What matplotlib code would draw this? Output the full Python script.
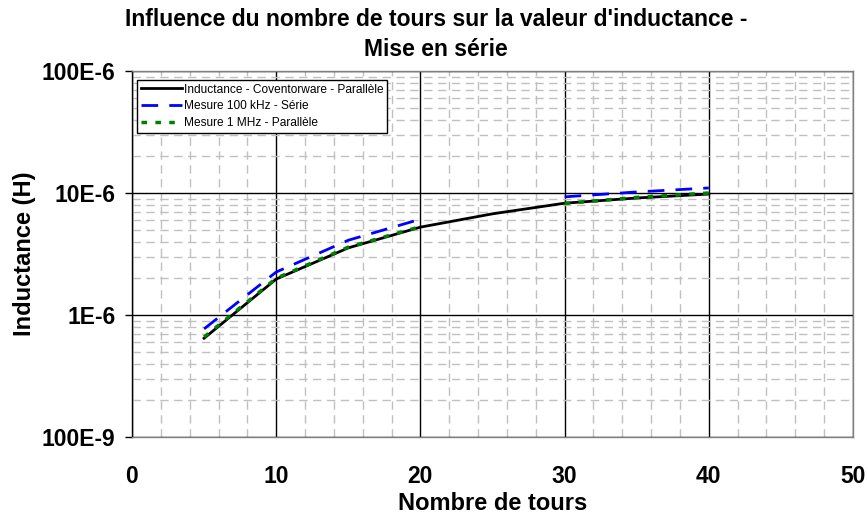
import numpy as np
import matplotlib
matplotlib.use("Agg")
import matplotlib.pyplot as plt
from matplotlib.ticker import FixedLocator, FixedFormatter, LogLocator, NullFormatter, MultipleLocator

plt.rcParams['font.family'] = ['Liberation Sans', 'DejaVu Sans']

turns = [5, 10, 15, 20, 25, 30, 35, 40]
coventor = [0.645e-6, 1.97e-6, 3.55e-6, 5.25e-6, 6.75e-6, 8.25e-6, 9.1e-6, 9.8e-6]
mes_100k = [0.77e-6, 2.25e-6, 4.1e-6, 6.1e-6, np.nan, 9.3e-6, 10.2e-6, 11.0e-6]
mes_1M = [0.66e-6, 2.0e-6, 3.6e-6, 5.3e-6, np.nan, 8.2e-6, 9.2e-6, 10.0e-6]

labels = ['Inductance - Coventorware - Parallèle', 'Mesure 100 kHz - Série', 'Mesure 1 MHz - Parallèle']
ytick_vals = [100e-9, 1e-6, 10e-6, 100e-6]
ytick_labels = ['100E-9', '1E-6', '10E-6', '100E-6']
xtick_vals = [0, 10, 20, 30, 40, 50]

W, H = 867, 516
fig = plt.figure(figsize=(W/100, H/100), dpi=100)
ax = fig.add_axes([132/W, 1-437/H, (853-132)/W, (437-71)/H])

ax.plot(turns, coventor, color='black', lw=2, label=labels[0], zorder=3)
ax.plot(turns, mes_100k, color='#0000ff', lw=2, dashes=(6, 4), label=labels[1], zorder=4)
ax.plot(turns, mes_1M, color='#008000', lw=2.5, dashes=(1.6, 2.4), label=labels[2], zorder=5)

ax.set_yscale('log')
ax.set_xlim(0, 50)
ax.set_ylim(100e-9, 100e-6)

ax.yaxis.set_major_locator(FixedLocator(ytick_vals))
ax.yaxis.set_major_formatter(FixedFormatter(ytick_labels))
ax.yaxis.set_minor_locator(LogLocator(base=10, subs=np.arange(2, 10)))
ax.yaxis.set_minor_formatter(NullFormatter())
ax.xaxis.set_major_locator(FixedLocator(xtick_vals))
ax.xaxis.set_minor_locator(MultipleLocator(2))

ax.grid(which='major', color='black', lw=1.0, ls='-', zorder=1)
ax.grid(which='minor', color='#c0c0c0', lw=1.0, ls=(0, (6, 4)), zorder=0)
ax.set_axisbelow(True)

ax.tick_params(axis='y', which='major', length=5, width=1, direction='out', labelsize=16.5, pad=7)
ax.tick_params(axis='x', which='major', length=0, labelsize=16.5, pad=20)
ax.tick_params(which='minor', length=0)
for lab in ax.get_xticklabels() + ax.get_yticklabels():
    lab.set_fontweight('bold')

for s in ax.spines.values():
    s.set_color('#808080')
    s.set_linewidth(1)
ax.spines['left'].set_color('black')

ax.set_xlabel('Nombre de tours', fontsize=17, fontweight='bold', labelpad=3)
ax.set_ylabel('Inductance (H)', fontsize=17, fontweight='bold', labelpad=4)

fig.text(0.503, 1-26/H, "Influence du nombre de tours sur la valeur d'inductance -",
         ha='center', va='baseline', fontsize=16.5, fontweight='bold')
fig.text(0.503, 1-56/H, "Mise en série",
         ha='center', va='baseline', fontsize=16.5, fontweight='bold')

leg = ax.legend(loc='upper left', bbox_to_anchor=(5/721, 1-9/366), fontsize=8.6, frameon=True,
                fancybox=False, edgecolor='black', framealpha=1, borderpad=0.3,
                handlelength=3.5, handletextpad=0.15, labelspacing=0.4, borderaxespad=0)
leg.get_frame().set_linewidth(1)

fig.savefig('out.png', dpi=100)
